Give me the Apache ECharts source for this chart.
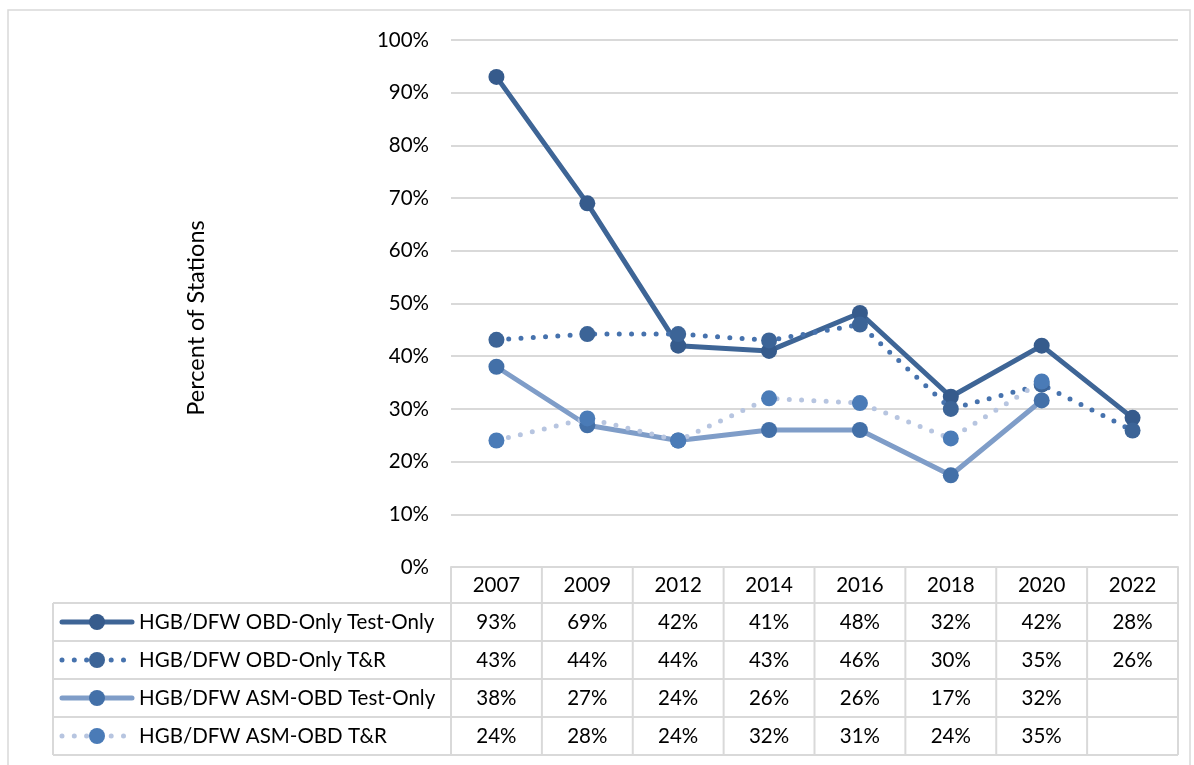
<!DOCTYPE html>
<html>
<head>
<meta charset="utf-8">
<script src="https://cdn.jsdelivr.net/npm/echarts@6/dist/echarts.min.js"></script>
<style>
  html, body { margin: 0; padding: 0; background: #fff; }
  #main { width: 1194px; height: 765px; }
</style>
</head>
<body>
<div id="main"></div>
<script>
// data
var years = ['2007', '2009', '2012', '2014', '2016', '2018', '2020', '2022'];
var seriesNames = [
    'HGB/DFW OBD-Only Test-Only',
    'HGB/DFW OBD-Only T&R',
    'HGB/DFW ASM-OBD Test-Only',
    'HGB/DFW ASM-OBD T&R'
];
var obdTestOnly = [93, 69, 42, 41, 48.2, 32.3, 42, 28.3];
var obdTR = [43.1, 44.2, 44.2, 43, 46, 30, 34.6, 25.9];
var asmTestOnly = [38, 26.9, 24, 26, 26, 17.4, 31.6, null];
var asmTR = [24, 28.2, 24, 32, 31.1, 24.4, 35.2, null];
var yTitle = 'Percent of Stations';

var FONT = 'Lato, Carlito, "Noto Sans", sans-serif';
var FS = 20.5;
var gridLeft = 451, gridRight = 16, gridTop = 40, gridBottom = 198;
var rowTops = [603, 641, 679, 717, 755];

var styles = [
    { line: '#3e6596', marker: '#365b8c', dotted: false },
    { line: '#4672ad', marker: '#3c6497', dotted: true },
    { line: '#7f9dc8', marker: '#4370a8', dotted: false },
    { line: '#b7c5e0', marker: '#4a7bb7', dotted: true }
];
var allData = [obdTestOnly, obdTR, asmTestOnly, asmTR];

function lineStyleFor(s) {
    return s.dotted
        ? { color: s.line, width: 5, type: [0, 12.3], cap: 'round' }
        : { color: s.line, width: 5, cap: 'round', join: 'round' };
}

var chart = echarts.init(document.getElementById('main'));

var option = {
    animation: false,
    backgroundColor: '#fff',
    textStyle: { fontFamily: FONT },
    grid: { left: gridLeft, right: gridRight, top: gridTop, bottom: gridBottom },
    xAxis: {
        type: 'category',
        data: years,
        boundaryGap: true,
        axisLine: { lineStyle: { color: '#d9d9d9', width: 2 } },
        axisTick: { show: false },
        axisLabel: { color: '#000', fontSize: FS, fontFamily: FONT, margin: 8 }
    },
    yAxis: {
        type: 'value',
        min: 0,
        max: 100,
        interval: 10,
        axisLine: { show: false },
        axisTick: { show: false },
        axisLabel: { formatter: '{value}%', color: '#000', fontSize: FS, fontFamily: FONT, margin: 22 },
        splitLine: { lineStyle: { color: '#d9d9d9', width: 2 } }
    },
    series: allData.map(function (d, i) {
        return {
            name: seriesNames[i],
            type: 'line',
            data: d,
            symbol: 'circle',
            symbolSize: 16,
            showSymbol: true,
            itemStyle: { color: styles[i].marker },
            lineStyle: lineStyleFor(styles[i]),
            z: 2 + i
        };
    })
};
chart.setOption(option);

// data table under the plot, placed through the category axis
var band = (1194 - gridLeft - gridRight) / years.length;
var tableRight = 1194 - gridRight;
var legendLeft = 53;
var g = [];
var borderStyle = { stroke: '#d9d9d9', lineWidth: 2 };

// outer chart border
g.push({ type: 'rect', shape: { x: 8, y: 10, width: 1182, height: 770 },
    style: { fill: null, stroke: '#d9d9d9', lineWidth: 1.5 }, z: 0 });

// y axis title
g.push({ type: 'text', x: 196, y: 318, rotation: Math.PI / 2,
    style: { text: yTitle, fill: '#000', font: '23.5px ' + FONT, textAlign: 'center', textVerticalAlign: 'middle' }, z: 4 });

// horizontal table lines
rowTops.forEach(function (y) {
    g.push({ type: 'line', shape: { x1: legendLeft, y1: y, x2: tableRight, y2: y }, style: borderStyle, z: 1 });
});
// vertical lines
for (var k = 0; k <= years.length; k++) {
    var xk = gridLeft + k * band;
    g.push({ type: 'line', shape: { x1: xk, y1: 567, x2: xk, y2: rowTops[4] }, style: borderStyle, z: 1 });
}
g.push({ type: 'line', shape: { x1: legendLeft, y1: rowTops[0], x2: legendLeft, y2: rowTops[4] }, style: borderStyle, z: 1 });

// rows: legend key + values
allData.forEach(function (d, r) {
    var cy = (rowTops[r] + rowTops[r + 1]) / 2;
    var s = styles[r];
    g.push({ type: 'line', shape: { x1: 62, y1: cy, x2: 132, y2: cy },
        style: { stroke: s.line, lineWidth: 5, lineCap: 'round', lineDash: s.dotted ? [0, 12.3] : null }, z: 3 });
    g.push({ type: 'circle', shape: { cx: 97, cy: cy, r: 8 }, style: { fill: s.marker }, z: 4 });
    g.push({ type: 'text', x: 139, y: cy,
        style: { text: seriesNames[r], fill: '#000', font: FS + 'px ' + FONT, textVerticalAlign: 'middle', textAlign: 'left' }, z: 4 });
    d.forEach(function (v, i) {
        if (v == null) return;
        var px = chart.convertToPixel({ xAxisIndex: 0 }, years[i]);
        g.push({ type: 'text', x: px, y: cy,
            style: { text: Math.round(v) + '%', fill: '#000', font: FS + 'px ' + FONT, textAlign: 'center', textVerticalAlign: 'middle' }, z: 4 });
    });
});

chart.setOption({ graphic: { elements: g } });
</script>
</body>
</html>
